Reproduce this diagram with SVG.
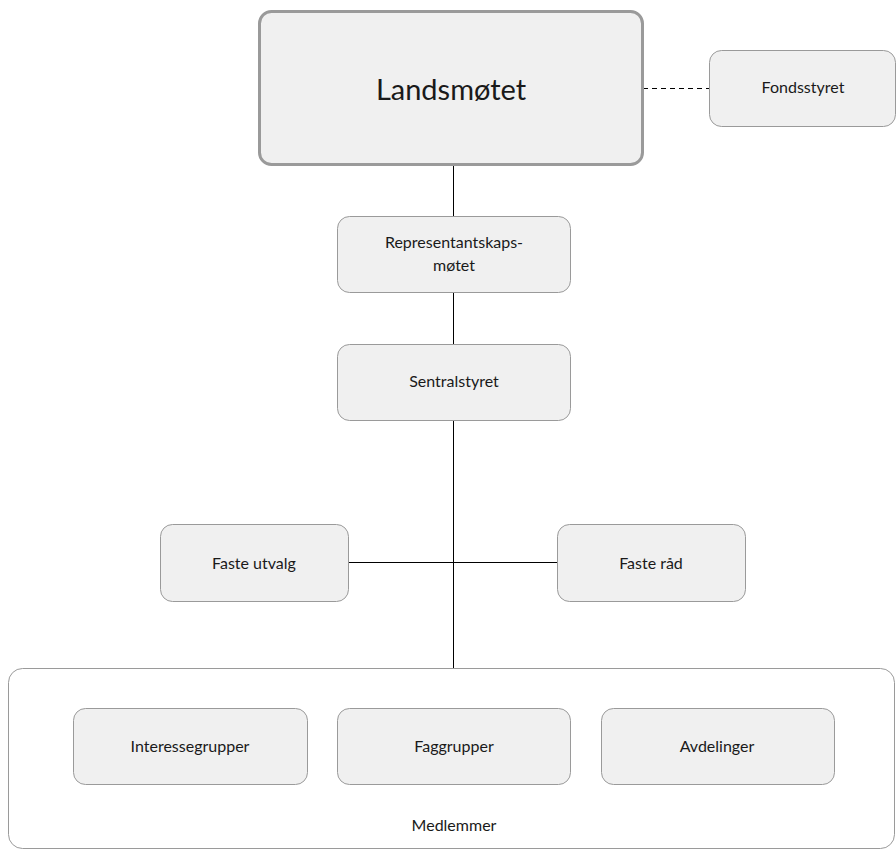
<svg xmlns="http://www.w3.org/2000/svg" width="896" height="853" viewBox="0 0 896 853">
<style>
.box{fill:#f0f0f0;stroke:#9a9a9a;stroke-width:1}
.big{fill:#f0f0f0;stroke:#9a9a9a;stroke-width:3}
.grp{fill:#ffffff;stroke:#9a9a9a;stroke-width:1}
.t{font-family:Lato,"Open Sans","Liberation Sans",sans-serif;font-size:16px;fill:#1a1a1a;text-anchor:middle}
.tl{font-family:Lato,"Open Sans","Liberation Sans",sans-serif;font-size:29px;fill:#1a1a1a;text-anchor:middle}
.ln{stroke:#000;stroke-width:1;fill:none}
</style>
<rect width="896" height="853" fill="#ffffff"/>
<g id="connectors">
<line class="ln" x1="453.5" y1="165" x2="453.5" y2="216"/>
<line class="ln" x1="453.5" y1="292" x2="453.5" y2="344"/>
<line class="ln" x1="453.5" y1="421" x2="453.5" y2="668"/>
<line class="ln" x1="348" y1="562.5" x2="557" y2="562.5"/>
<line class="ln" x1="643" y1="88.5" x2="709" y2="88.5" stroke-dasharray="5,4"/>
</g>
<g id="medlemmer">
<rect class="grp" x="8.5" y="668.5" width="886" height="180" rx="14"/>
<text class="t" x="454" y="831">Medlemmer</text>
</g>
<g id="landsmotet">
<rect class="big" x="259.5" y="11.5" width="383" height="153" rx="12"/>
<text class="tl" x="451" y="100">Landsmøtet</text>
</g>
<g id="fondsstyret">
<rect class="box" x="709.5" y="50.5" width="186" height="76" rx="12"/>
<text class="t" x="803" y="93">Fondsstyret</text>
</g>
<g id="representantskap">
<rect class="box" x="337.5" y="216.5" width="233" height="76" rx="12"/>
<text class="t" x="454" y="248">Representantskaps-</text>
<text class="t" x="454" y="271">møtet</text>
</g>
<g id="sentralstyret">
<rect class="box" x="337.5" y="344.5" width="233" height="76" rx="12"/>
<text class="t" x="454" y="387">Sentralstyret</text>
</g>
<g id="faste-utvalg">
<rect class="box" x="160.5" y="524.5" width="188" height="77" rx="12"/>
<text class="t" x="254" y="569">Faste utvalg</text>
</g>
<g id="faste-rad">
<rect class="box" x="557.5" y="524.5" width="188" height="77" rx="12"/>
<text class="t" x="651" y="569">Faste råd</text>
</g>
<g id="interessegrupper">
<rect class="box" x="73.5" y="708.5" width="234" height="76" rx="12"/>
<text class="t" x="190" y="752">Interessegrupper</text>
</g>
<g id="faggrupper">
<rect class="box" x="337.5" y="708.5" width="233" height="76" rx="12"/>
<text class="t" x="454" y="752">Faggrupper</text>
</g>
<g id="avdelinger">
<rect class="box" x="601.5" y="708.5" width="233" height="76" rx="12"/>
<text class="t" x="717" y="752">Avdelinger</text>
</g>
</svg>
